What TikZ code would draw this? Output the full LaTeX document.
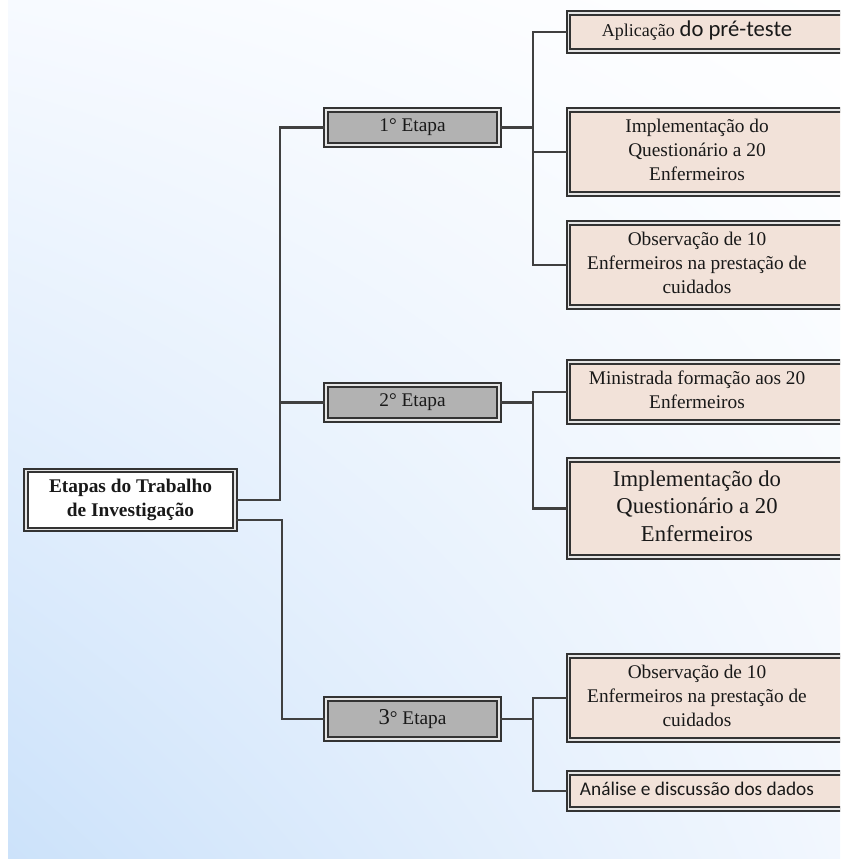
\documentclass[tikz,border=0pt]{standalone}
\usepackage{fontspec}
\usetikzlibrary{shadings}
\setmainfont{Liberation Serif}
\newfontfamily\calibfont{Carlito}
\definecolor{bgtop}{RGB}{247,250,255}
\definecolor{bgbottom}{RGB}{204,226,250}
\definecolor{bgright}{RGB}{242,247,254}
\definecolor{taskfill}{RGB}{242,226,217}
\newcommand{\tasktext}[1]{\begin{tabular}{@{}c@{}}#1\end{tabular}\hspace{15pt}}
\begin{document}
\begin{tikzpicture}[x=0.75pt,y=0.75pt,yscale=-1,xscale=1,
  boxline/.style={draw=black!80,line width=1.5pt,double=gray!20,double distance=1.2pt,text=black!90,align=center,inner sep=2pt},
  topic/.style={boxline,fill=white,font=\bfseries\fontsize{14.5}{17.5}\selectfont,minimum width=157pt,minimum height=44pt},
  stage/.style={boxline,fill=black!30,font=\fontsize{14.5}{17.5}\selectfont,minimum width=130pt,minimum height=26.5pt},
  task/.style={boxline,fill=taskfill,font=\fontsize{14.5}{18}\selectfont,minimum width=208pt},
  link/.style={draw=black!75,line width=1.8pt}]
\useasboundingbox (0,0) rectangle (840,859);
\clip (0,0) rectangle (840,859);

%Background
\shade[upper left=bgtop,lower left=bgbottom,upper right=white,lower right=bgright] (8,0) rectangle (840,858);

% Text Node
\node[topic] (root) at (130.5,500) {Etapas do Trabalho\\de Investigação};
% Text Node
\node[stage] (e1) at (412.5,127.5) {1° Etapa};
% Text Node
\node[stage] (e2) at (412.5,402.5) {2° Etapa};
% Text Node
\node[stage,minimum height=30.3pt] (e3) at (412.5,719) {{\fontsize{17}{20}\selectfont 3}° Etapa};

% Text Node
\node[task,minimum height=28.8pt] (a1) at (707,32) {\tasktext{{\fontsize{13.5}{16}\selectfont Aplicação} {\calibfont\fontsize{17}{18}\selectfont do pré-teste}}};
% Text Node
\node[task,minimum height=63.3pt] (a2) at (707,152) {\tasktext{Implementação do\\Questionário a 20\\Enfermeiros}};
% Text Node
\node[task,minimum height=63.3pt] (a3) at (707,265) {\tasktext{Observação de 10\\Enfermeiros na prestação de\\cuidados}};
% Text Node
\node[task,minimum height=45.3pt] (b1) at (707,392) {\tasktext{Ministrada formação aos 20\\Enfermeiros}};
% Text Node
\node[task,minimum height=73pt,font=\fontsize{17}{20.5}\selectfont] (b2) at (707,508.5) {\tasktext{Implementação do\\Questionário a 20\\Enfermeiros}};
% Text Node
\node[task,minimum height=63.3pt] (c1) at (707,698) {\tasktext{Observação de 10\\Enfermeiros na prestação de\\cuidados}};
% Text Node
\node[task,minimum height=27.3pt,font=\calibfont\fontsize{14.5}{17}\selectfont] (c2) at (707,791) {\tasktext{Análise e discussão dos dados}};

%Straight Lines
\coordinate (t1) at (280,500);
\coordinate (t3) at (282,520);
\draw[link] (root.east) -- (t1) |- (e1.west);
\draw[link] (t1 |- e2.west) -- (e2.west);
\draw[link] (root.east |- t3) -- (t3) |- (e3.west);

%Straight Lines
\coordinate (j1) at (533,127.5);
\draw[link] (e1.east) -- (j1) |- (a1.west);
\draw[link] (j1) |- (a2.west);
\draw[link] (j1) |- (a3.west);

%Straight Lines
\coordinate (j2) at (533,402.5);
\draw[link] (e2.east) -- (j2) |- (b1.west);
\draw[link] (j2) |- (b2.west);

%Straight Lines
\coordinate (j3) at (533,719);
\draw[link] (e3.east) -- (j3) |- (c1.west);
\draw[link] (j3) |- (c2.west);

\end{tikzpicture}
\end{document}
